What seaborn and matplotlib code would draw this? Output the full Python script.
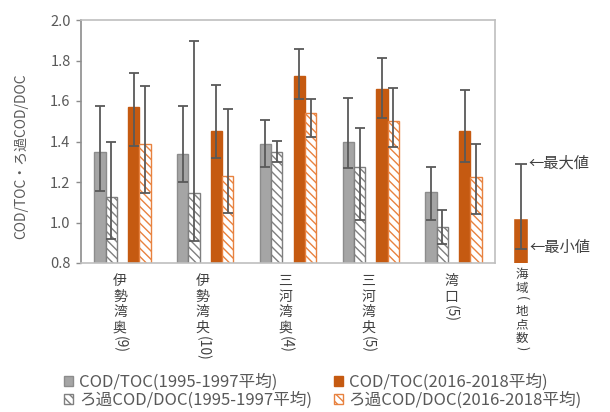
import pandas as pd
import matplotlib
matplotlib.use("Agg")
import matplotlib.pyplot as plt
import matplotlib.transforms as mtransforms
from matplotlib.patches import Patch
import seaborn as sns

sns.set_theme(style="white")
plt.rcParams['font.family'] = ['Noto Sans CJK JP', 'DejaVu Sans']
plt.rcParams['hatch.linewidth'] = 1.0

# sites and number of stations
sites = ['伊勢湾奥', '伊勢湾央', '三河湾奥', '三河湾央', '湾口']
counts = ['9', '10', '4', '5', '5']

series = ['COD/TOC(1995-1997平均)', 'ろ過COD/DOC(1995-1997平均)',
          'COD/TOC(2016-2018平均)', 'ろ過COD/DOC(2016-2018平均)']

# mean values
toc_old = [1.35, 1.34, 1.39, 1.40, 1.15]
doc_old = [1.125, 1.145, 1.35, 1.275, 0.978]
toc_new = [1.57, 1.45, 1.725, 1.66, 1.45]
doc_new = [1.39, 1.228, 1.54, 1.50, 1.223]

# min / max of the stations
toc_old_max = [1.575, 1.575, 1.505, 1.615, 1.275]
toc_old_min = [1.157, 1.20, 1.273, 1.268, 1.01]
doc_old_max = [1.40, 1.898, 1.402, 1.467, 1.06]
doc_old_min = [0.92, 0.91, 1.297, 1.012, 0.892]
toc_new_max = [1.737, 1.677, 1.858, 1.814, 1.654]
toc_new_min = [1.378, 1.32, 1.608, 1.518, 1.297]
doc_new_max = [1.673, 1.562, 1.608, 1.666, 1.39]
doc_new_min = [1.146, 1.048, 1.422, 1.371, 1.042]

# legend sample bar
sample_value = 1.022
sample_max = 1.289
sample_min = 0.869

means = [toc_old, doc_old, toc_new, doc_new]
maxs = [toc_old_max, doc_old_max, toc_new_max, doc_new_max]
mins = [toc_old_min, doc_old_min, toc_new_min, doc_new_min]

rows = []
for s, vals in zip(series, means):
    for site, v in zip(sites, vals):
        rows.append({'site': site, 'series': s, 'value': v})
df = pd.DataFrame(rows)

gray = '#A5A5A5'
orange = '#C55A11'
orange_light = '#E8823F'
err_col = '#595959'
txt_col = '#595959'

# blank level in the middle leaves the gap between the two periods
hue_order = [series[0], series[1], 'gap', series[2], series[3]]
pal = {series[0]: gray, series[1]: 'white', 'gap': 'white',
       series[2]: orange, series[3]: 'white'}

fig = plt.figure(figsize=(6.1, 4.12), dpi=100)
ax = fig.add_axes([81 / 610, 1 - 263 / 412, (495 - 81) / 610, (263 - 20) / 412])

sns.barplot(data=df, x='site', y='value', hue='series', hue_order=hue_order,
            order=sites, palette=pal, width=0.68, errorbar=None,
            saturation=1, legend=False, ax=ax)

styles = [
    dict(facecolor=gray, edgecolor='#8C8C8C', hatch=None),
    dict(facecolor='white', edgecolor='#7F7F7F', hatch='\\\\\\\\'),
    dict(facecolor=orange, edgecolor=orange, hatch=None),
    dict(facecolor='white', edgecolor=orange_light, hatch='\\\\\\\\'),
]
offsets = [-0.272, -0.136, 0.136, 0.272]

for p in ax.patches:
    if p.get_height() == 0 or pd.isna(p.get_height()):
        continue
    xc = p.get_x() + p.get_width() / 2
    ci = int(round(xc))
    si = min(range(4), key=lambda k: abs(xc - ci - offsets[k]))
    st = styles[si]
    p.set_facecolor(st['facecolor'])
    p.set_edgecolor(st['edgecolor'])
    p.set_linewidth(1.0)
    if st['hatch']:
        p.set_hatch(st['hatch'])
    v = means[si][ci]
    ax.errorbar(xc, v, yerr=[[v - mins[si][ci]], [maxs[si][ci] - v]],
                fmt='none', ecolor=err_col, elinewidth=1.3, capsize=3.5,
                capthick=1.3, zorder=5)

ax.set_xlim(-0.5, 4.5)
ax.set_ylim(0.8, 2.0)
ax.set_yticks([0.8, 1.0, 1.2, 1.4, 1.6, 1.8, 2.0])
ax.set_yticklabels([f'{t:.1f}' for t in [0.8, 1.0, 1.2, 1.4, 1.6, 1.8, 2.0]])
ax.tick_params(axis='y', left=True, length=3.5, width=1, color='#8C8C8C',
               labelsize=10.5, labelcolor=txt_col, pad=4)
ax.set_xticks(range(len(sites)))
ax.set_xticklabels([])
ax.tick_params(axis='x', length=0)
ax.set_xlabel('')
ax.set_ylabel('COD/TOC・ろ過COD/DOC', fontsize=10, color=txt_col)
ax.yaxis.set_label_coords(-0.127, 0.44)
for side in ['top', 'right', 'bottom']:
    ax.spines[side].set_color('#BFBFBF')
    ax.spines[side].set_linewidth(1.2)
ax.spines['left'].set_color('#8C8C8C')
ax.spines['left'].set_linewidth(1.2)


def vertical_label(axis, x, pieces, fontsize, start, step, color):
    # kanji stacked upright, latin parts turned sideways
    trans = mtransforms.blended_transform_factory(axis.transData, axis.transAxes)
    off = start
    for text, turned in pieces:
        if turned:
            axis.annotate(text, (x, 0), xycoords=trans, xytext=(0, -off),
                          textcoords='offset points', ha='center', va='top',
                          rotation=270, fontsize=fontsize, color=color,
                          annotation_clip=False)
            off += len(text) * fontsize * 0.6 + 1
        else:
            for ch in text:
                axis.annotate(ch, (x, 0), xycoords=trans, xytext=(0, -off),
                              textcoords='offset points', ha='center', va='top',
                              fontsize=fontsize, color=color,
                              annotation_clip=False)
                off += step


for i, (site, n) in enumerate(zip(sites, counts)):
    vertical_label(ax, i - 0.03, [(site, False), (f'({n})', True)],
                   10, 8, 11.2, '#404040')

# sample bar explaining the whiskers
sax = fig.add_axes([505 / 610, 1 - 263 / 412, 31 / 610, (263 - 20) / 412])
sns.barplot(x=[''], y=[sample_value], color=orange, width=0.5, saturation=1,
            ax=sax)
sax.errorbar(0, sample_value, yerr=[[sample_value - sample_min],
                                    [sample_max - sample_value]],
             fmt='none', ecolor=err_col, elinewidth=1.3, capsize=4,
             capthick=1.3, zorder=5)
sax.set_xlim(-0.5, 0.5)
sax.set_ylim(0.8, 2.0)
sax.axis('off')
vertical_label(sax, 0.05, [('海域', False), ('(', True), ('地点数', False), (')', True)],
               9, 3.5, 10, '#404040')

fig.text(528 / 610, 1 - 163 / 412, '←最大値', fontsize=11, color='#404040',
         va='center', ha='left')
fig.text(529 / 610, 1 - 247 / 412, '←最小値', fontsize=11, color='#404040',
         va='center', ha='left')

handles = [Patch(facecolor=gray, edgecolor='#8C8C8C'),
           Patch(facecolor='white', edgecolor='#7F7F7F', hatch='\\\\\\\\'),
           Patch(facecolor=orange, edgecolor=orange),
           Patch(facecolor='white', edgecolor=orange_light, hatch='\\\\\\\\')]
leg = fig.legend(handles, series, ncol=2, loc='upper left',
                 bbox_to_anchor=(64 / 610, 1 - 374 / 412), frameon=False,
                 fontsize=12, handlelength=0.55, handleheight=0.55,
                 handletextpad=0.35, labelspacing=0.0, columnspacing=1.3,
                 borderaxespad=0, borderpad=0)
for t in leg.get_texts():
    t.set_color(txt_col)

fig.savefig('out.png', dpi=100)
